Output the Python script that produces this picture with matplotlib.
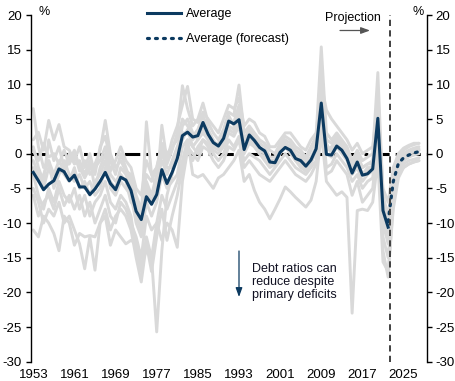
import matplotlib
matplotlib.use('Agg')
import matplotlib.pyplot as plt
import numpy as np

# ---------------- data ----------------
years = list(range(1953, 2029))
avg_years = list(range(1953, 2023))
avg = [-2.7, -3.9, -5.2, -4.4, -3.9, -2.2, -2.6,
       -3.9, -3.1, -4.8, -4.8, -5.9, -5.1, -4.0, -2.7, -4.3, -5.2,
       -3.4, -3.8, -5.3, -8.3, -9.5, -6.2, -7.3, -5.9, -2.3, -4.3,
       -2.7, -0.7, 2.6, 3.1, 2.4, 2.6, 4.5, 2.8, 1.6, 1.1,
       2.2, 4.7, 4.3, 4.9, 0.6, 2.7, 1.9, 0.9, 0.4, -1.2,
       -1.3, 0.2, 0.9, 0.5, -0.7, -1.0, -1.8, -0.9, 0.7, 7.3,
       -0.1, -0.2, 1.1, 0.5, -0.7, -2.8, -1.2, -3.1, -2.9, -2.2,
       5.1, -8.2, -10.6]
fc_years = list(range(2022, 2029))
fc = [-9.8, -4.0, -1.4, -0.6, -0.2, 0.1, 0.3]

grey_a = [6.5, 1.0, -2.0, -1.0, -3.0, -1.0, -2.5,
          -1.0, 0.5, -2.0, -3.5, -2.0, -1.5, 0.5, 4.8, 0.0, -2.0,
          -1.0, -2.5, -3.0, -6.0, -8.0, -3.0, -4.0, -2.0, 1.0, -1.5,
          0.5, 3.0, 9.8, 6.5, 4.0, 5.0, 7.3, 4.5, 3.0, 2.0,
          3.5, 6.0, 5.5, 9.9, 3.0, 4.0, 3.0, 2.0, 1.5, 0.5,
          0.0, 1.5, 2.5, 2.0, 1.0, 0.5, -0.5, 1.0, 2.5, 15.4,
          3.0, 2.0, 3.0, 2.0, 1.0, -1.0, 0.5, -1.0, -0.5, 0.0,
          11.7, -6.0, -9.0, -3.0, -0.5, 0.5, 1.0, 1.3, 1.5]
grey_b = [-11.0, -12.0, -9.0, -10.0, -11.5, -14.0, -9.0,
          -10.0, -13.2, -11.5, -12.0, -11.8, -12.0, -10.0, -9.0, -13.2, -11.0,
          -12.0, -13.0, -12.5, -13.0, -16.0, -14.0, -15.0, -10.0, -12.5, -10.0,
          -11.0, -13.5, -4.0, 0.5, -1.0, 1.0, 2.0, 1.0, 0.0, -1.0,
          0.0, 2.0, 1.0, 2.5, -1.0, 0.0, -0.5, -1.0, -2.0, -3.0,
          -2.0, -1.0, 0.0, -1.0, -2.0, -2.5, -3.0, -2.0, -1.0, 6.0,
          -2.0, -1.5, 0.0, -1.0, -2.0, -4.0, -3.0, -5.0, -4.0, -3.5,
          4.0, -12.0, -15.0, -6.0, -2.5, -1.5, -1.0, -0.8, -0.6]
grey_c = [-3.0, -6.0, -8.0, -5.0, -7.0, -4.0, -6.0,
          -7.0, -5.0, -8.0, -6.0, -9.0, -7.0, -6.0, -4.0, -7.0, -8.0,
          -6.0, -7.0, -9.0, -14.0, -17.0, -12.0, -15.0, -25.7, -14.0, -6.0,
          -3.0, 0.0, 4.0, 5.0, 3.0, 2.0, 4.0, 2.5, 1.0, 1.5,
          3.0, 5.5, 4.0, 6.0, 1.0, 3.0, 2.0, 1.0, 0.0, -1.0,
          -1.0, 0.5, 1.5, 1.0, -0.5, -1.0, -2.0, -1.0, 1.0, 9.0,
          1.0, 0.5, 2.0, 1.0, 0.0, -2.0, -1.0, -3.0, -2.5, -2.0,
          6.0, -9.0, -12.0, -4.0, -1.5, -0.5, 0.0, 0.3, 0.5]
grey_d = [-5.0, -7.0, -10.0, -8.0, -9.0, -7.0, -10.0,
          -9.0, -11.0, -13.0, -16.6, -12.0, -16.8, -10.0, -8.0, -11.0, -9.0,
          -8.0, -9.0, -11.0, -15.0, -18.5, -13.0, -17.0, -12.0, -8.0, -12.5,
          -9.0, -6.0, -2.0, 1.0, 0.0, -1.0, 1.0, 0.5, -1.0, -2.0,
          -1.0, 1.0, 0.5, 2.0, -2.0, -1.0, -2.0, -3.0, -3.5, -4.0,
          -3.0, -2.0, -1.0, -2.0, -3.0, -3.5, -4.0, -3.0, -1.5, 5.0,
          -3.0, -2.5, -1.0, -2.0, -3.0, -6.0, -4.0, -7.0, -6.0, -5.0,
          2.0, -14.0, -17.8, -7.0, -3.0, -2.0, -1.5, -1.2, -1.0]
grey_e = [2.0, 3.1, 0.5, 4.8, 2.0, 4.2, 1.0,
          0.5, -1.0, 1.0, -2.0, 0.0, -3.0, 1.0, 2.5, -1.0, -3.0,
          0.0, -2.0, -4.0, -7.0, -9.0, 4.6, -3.0, -5.0, 4.1, -1.0,
          2.0, 4.0, 7.0, 9.7, 5.0, 4.5, 6.0, 5.0, 4.0, 3.0,
          5.0, 7.0, 6.5, 8.0, 4.0, 5.0, 4.5, 3.0, 2.5, 1.0,
          1.0, 2.0, 3.0, 3.0, 2.0, 1.0, 0.5, 2.0, 3.0, 10.0,
          6.3, 5.0, 4.0, 3.0, 2.0, 0.5, 1.5, 0.0, 0.5, 1.0,
          8.0, -5.0, -7.0, -2.0, 0.0, 0.8, 1.2, 1.5, 1.5]
grey_f = [-1.0, -3.0, -5.0, -2.0, -4.0, -2.0, -3.0,
          -4.0, -2.0, -5.0, -4.0, -6.0, -4.0, -3.0, -1.0, -5.0, -6.0,
          -4.0, -5.0, -6.0, -10.0, -12.0, -7.0, -9.0, -7.0, -3.0, -5.0,
          -4.0, -3.0, 1.0, 2.0, -3.0, -3.4, -3.0, -4.0, -5.0, -3.5,
          -3.0, -2.0, -1.0, 0.5, -4.0, -3.0, -5.3, -7.0, -8.0, -9.4,
          -8.0, -6.5, -4.8, -5.5, -6.3, -7.0, -7.7, -6.7, -4.0, 3.0,
          -4.0, -5.0, -6.0, -5.5, -6.3, -23.0, -8.2, -8.0, -8.2, -7.0,
          -1.0, -15.6, -17.0, -8.0, -3.5, -2.0, -1.5, -1.2, -1.0]
grey_g = [0.5, -1.0, 1.5, -0.5, 0.0, -1.5, 0.5,
          -1.5, 0.0, -2.5, -1.0, -3.0, -2.0, -1.0, 1.0, -2.5, -1.0,
          1.0, -1.0, -2.0, -5.0, -6.0, -1.0, -3.0, -2.0, 1.5, 0.0,
          1.0, 2.0, 5.0, 4.0, 2.5, 3.5, 5.5, 3.5, 2.0, 1.0,
          3.0, 5.0, 4.5, 7.0, 2.0, 3.5, 2.5, 1.5, 1.0, -0.5,
          -0.5, 1.0, 2.0, 1.5, 0.5, 0.0, -1.0, 0.5, 2.0, 8.0,
          2.0, 1.5, 2.5, 1.5, 0.5, -1.5, 0.0, -2.0, -1.5, -1.0,
          5.0, -7.0, -10.0, -3.5, -1.0, 0.0, 0.5, 0.8, 1.0]
grey_h = [-6.0, -9.0, -7.0, -6.0, -8.0, -5.0, -7.5,
          -6.0, -8.0, -6.0, -9.0, -7.0, -10.0, -8.0, -6.0, -9.0, -10.0,
          -7.0, -8.0, -10.0, -12.0, -15.0, -9.0, -11.0, -10.0, -6.0, -8.0,
          -6.0, -4.0, -1.0, 2.0, 1.0, 0.0, 2.0, 1.5, 0.5, 0.0,
          1.0, 3.0, 2.5, 4.0, 0.0, 1.5, 1.0, 0.0, -1.0, -2.0,
          -1.5, 0.0, 1.0, 0.0, -1.0, -1.5, -2.5, -1.0, 0.0, 7.0,
          0.0, -0.5, 1.0, 0.0, -1.0, -3.0, -2.0, -4.0, -3.0, -2.5,
          3.0, -10.0, -13.0, -5.0, -2.0, -1.0, -0.5, -0.2, 0.0]
grey_i = [-2.0, -4.0, -3.0, -1.0, -5.0, -3.0, -1.0,
          -3.0, -4.0, -3.0, -5.0, -4.0, -6.0, -5.0, -2.0, -4.0, -5.0,
          -2.0, -3.0, -5.0, -9.0, -11.0, -5.0, -7.0, -4.0, -1.0, -3.0,
          -1.0, 1.0, 3.0, 3.0, 2.0, 3.0, 3.5, 2.5, 1.5, 1.0,
          2.0, 4.0, 3.5, 5.0, 1.0, 2.5, 1.5, 0.5, 0.0, -1.5,
          -1.0, 0.5, 1.0, 0.5, -1.0, -2.0, -2.5, -1.5, 0.5, 12.0,
          1.5, 0.0, 1.5, 0.5, -0.5, -2.5, -1.0, -3.0, -2.0, -2.0,
          4.0, -8.0, -11.0, -4.5, -1.5, -0.5, 0.0, 0.3, 0.5]
grey_j = [1.0, -2.0, -4.0, 2.0, -1.0, 1.0, -2.0,
          0.0, -1.5, -1.0, -3.0, -1.0, -5.0, -2.0, 0.0, -3.0, -4.0,
          -3.0, -4.0, -7.0, -8.0, -10.0, -4.0, -6.0, -3.0, 0.0, -2.0,
          -2.0, 0.0, 2.0, 3.5, 1.0, 2.0, 3.0, 2.0, 1.0, 0.5,
          1.5, 3.5, 3.0, 5.0, 0.5, 2.0, 1.0, 0.0, -0.5, -1.0,
          -1.0, 0.5, 1.5, 1.0, 0.0, -0.5, -1.5, -0.5, 1.0, 7.5,
          0.5, 1.0, 2.0, 1.0, 0.0, -2.0, -0.5, -2.0, -1.5, -1.5,
          5.5, -9.5, -12.0, -4.0, -1.0, 0.0, 0.3, 0.5, 0.7]
grey_series = [grey_a, grey_b, grey_c, grey_d, grey_e,
               grey_f, grey_g, grey_h, grey_i, grey_j]

x_ticks = [1953, 1961, 1969, 1977, 1985, 1993, 2001, 2009, 2017, 2025]
y_ticks = [-30, -25, -20, -15, -10, -5, 0, 5, 10, 15, 20]
projection_start = 2022.4

# ---------------- style ----------------
plt.rcParams['font.family'] = ['Liberation Sans', 'DejaVu Sans']
plt.rcParams['font.size'] = 9

NAVY = '#0C3A60'
GREY = '#D9D9D9'

fig = plt.figure(figsize=(4.56, 3.81), dpi=100)
W, H = 456, 381
ax = fig.add_axes([30.7 / W, 1 - 361.7 / H, (426.7 - 30.7) / W, (361.7 - 15) / H])

for s in grey_series:
    ax.plot(years, s, color=GREY, lw=2.1, solid_joinstyle='round',
            solid_capstyle='round', zorder=2)

ax.axhline(0, color='black', lw=2.2, linestyle=(0, (5, 2, 1.2, 2)), zorder=1)

l1, = ax.plot(avg_years, avg, color=NAVY, lw=2.2, zorder=4,
              solid_joinstyle='round', label='Average')
l2, = ax.plot(fc_years, fc, color=NAVY, lw=2.3, zorder=4,
              linestyle=(0, (0.6, 1.9)), dash_capstyle='round',
              label='Average (forecast)')

ax.axvline(projection_start, color='#404040', lw=1.4,
           linestyle=(0, (3.2, 2.2)), zorder=5)

ax.set_xlim(1952.5, 2029.5)
ax.set_ylim(-30, 20)
ax.set_xticks(x_ticks)
ax.set_xticklabels([str(t) for t in x_ticks])
ax.set_yticks(y_ticks)
ax.set_yticklabels([str(t) for t in y_ticks])

ax.spines['top'].set_visible(False)
ax.spines['bottom'].set_visible(False)
ax.spines['left'].set_linewidth(1.0)
ax.spines['right'].set_linewidth(1.0)
ax.yaxis.set_ticks_position('both')
ax.tick_params(axis='y', direction='out', length=3.5, width=1.0, pad=3,
               labelleft=True, labelright=True, labelsize=9.5, colors='black')
ax.tick_params(axis='x', length=0, pad=5, labelsize=9.5, colors='black')

# legend
leg = ax.legend(handles=[l1, l2], loc='upper left', frameon=False,
                bbox_to_anchor=(147 / W, 1 - 8 / H),
                bbox_transform=fig.transFigure,
                handlelength=2.75, handletextpad=0.35, labelspacing=1.05,
                borderpad=0, borderaxespad=0, fontsize=9)

# % labels
fig.text(44 / W, 1 - 12 / H, '%', ha='center', va='center', fontsize=9)
fig.text(418 / W, 1 - 12 / H, '%', ha='center', va='center', fontsize=9)

# Projection
fig.text(353 / W, 1 - 18 / H, 'Projection', ha='center', va='center', fontsize=9)
ax.annotate('', xy=(370, H - 30.5), xytext=(340, H - 30.5),
            xycoords='figure pixels', textcoords='figure pixels',
            arrowprops=dict(arrowstyle='-|>,head_length=0.6,head_width=0.22',
                            color='#555555', lw=0.9, shrinkA=0, shrinkB=0))

# Debt ratios annotation
ax.annotate('', xy=(239, H - 297), xytext=(239, H - 251),
            xycoords='figure pixels', textcoords='figure pixels',
            arrowprops=dict(arrowstyle='-|>,head_length=0.6,head_width=0.22',
                            color=NAVY, lw=0.9, shrinkA=0, shrinkB=0))
fig.text(252 / W, 1 - 263 / H, 'Debt ratios can\nreduce despite\nprimary deficits',
         ha='left', va='top', fontsize=9, linespacing=1.12, color='#111122')

fig.savefig('out.png', dpi=100)
